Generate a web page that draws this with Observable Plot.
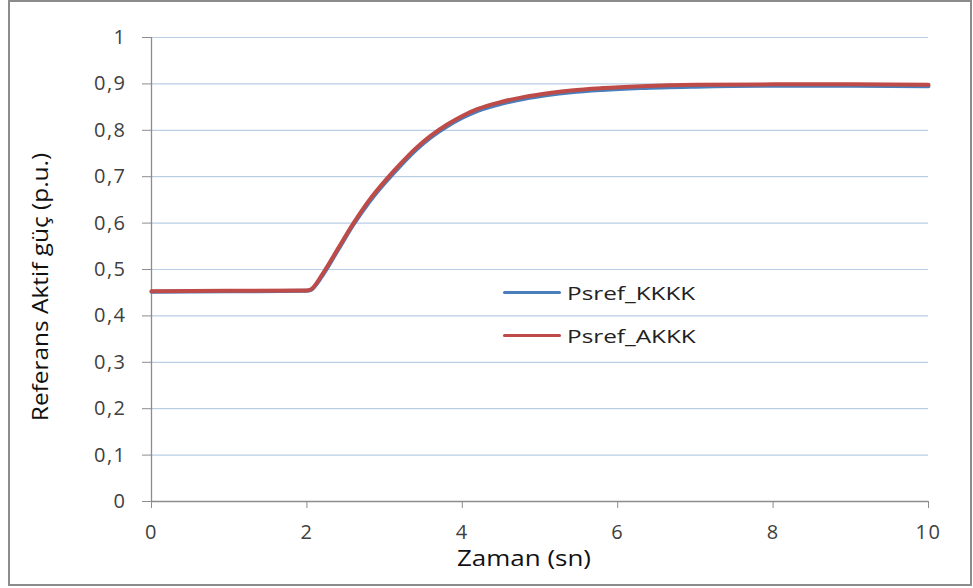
<!DOCTYPE html>
<html>
<head>
<meta charset="utf-8">
<script src="https://cdn.jsdelivr.net/npm/d3@7"></script>
<script src="https://cdn.jsdelivr.net/npm/@observablehq/plot@0.6"></script>
<style>
  html, body { margin: 0; padding: 0; background: #fff; }
  #wrap { position: relative; width: 973px; height: 588px; font-family: "Open Sans", sans-serif; }
  #frame { position: absolute; left: 8px; top: 0px; width: 960px; height: 582px; border: 2px solid #8c8c8c; pointer-events: none; }
  .ttl { position: absolute; color: #111; font-size: 22px; white-space: nowrap; line-height: 1; }
  #xttl { left: 457px; top: 546px; transform: scaleX(1.18); transform-origin: 0 50%; }
  #yttl { left: 39px; top: 287px; transform: translate(-50%, -50%) rotate(-90deg) scaleX(1.11); }
  #legend { position: absolute; left: 503px; top: 271px; font-size: 19px; color: #222; }
  #legend .row { display: flex; align-items: center; height: 43px; }
  #legend .sw { width: 58px; height: 3px; margin-right: 6px; border-radius: 2px; }
  #legend .lab { display: inline-block; transform: scaleX(1.28); transform-origin: 0 50%; }
</style>
</head>
<body>
<div id="wrap">
  <div id="chart"></div>
  <div id="frame"></div>
  <div class="ttl" id="xttl">Zaman (sn)</div>
  <div class="ttl" id="yttl">Referans Aktif güç (p.u.)</div>
  <div id="legend"></div>
</div>
<script>
const seriesNames = ["Psref_KKKK", "Psref_AKKK"];
const seriesColors = ["#4a7ebb", "#be4b48"];
const time = [0, 1, 2, 2.05, 2.2, 2.4, 2.6, 2.8, 3.0, 3.2, 3.4, 3.6, 3.8, 4.0, 4.2, 4.5, 4.8, 5.1, 5.4, 5.8, 6.3, 7, 8, 9, 10];
const psrefKKKK = [0.452, 0.453, 0.454, 0.456, 0.487, 0.542, 0.597, 0.645, 0.686, 0.723, 0.757, 0.785, 0.808, 0.827, 0.842, 0.857, 0.868, 0.876, 0.882, 0.887, 0.891, 0.894, 0.896, 0.896, 0.895];
const psrefAKKK = [0.453, 0.454, 0.455, 0.457, 0.490, 0.545, 0.600, 0.649, 0.690, 0.727, 0.761, 0.789, 0.812, 0.831, 0.846, 0.861, 0.872, 0.880, 0.886, 0.891, 0.895, 0.898, 0.899, 0.899, 0.898];
const yTicks = [0, 0.1, 0.2, 0.3, 0.4, 0.5, 0.6, 0.7, 0.8, 0.9, 1];
const xTicks = [0, 2, 4, 6, 8, 10];

const data = [];
[psrefKKKK, psrefAKKK].forEach((vals, i) => {
  vals.forEach((v, j) => data.push({ series: seriesNames[i], t: time[j], v }));
});

const fmt = d => String(d).replace(".", ",");

const chart = Plot.plot({
  width: 973,
  height: 588,
  marginLeft: 151,
  marginRight: 45,
  marginTop: 37,
  marginBottom: 87,
  style: { fontFamily: "'Open Sans', sans-serif", fontSize: "20px", color: "#404040", background: "transparent", letterSpacing: "1.5px" },
  x: { domain: [0, 10] },
  y: { domain: [0, 1] },
  color: { domain: seriesNames, range: seriesColors },
  marks: [
    Plot.gridY(yTicks, { stroke: "#b9cde5", strokeOpacity: 1, strokeWidth: 1.2 }),
    Plot.ruleX([0], { stroke: "#8c8c8c", strokeWidth: 1.3 }),
    Plot.ruleY([0], { stroke: "#8c8c8c", strokeWidth: 1.3 }),
    Plot.axisY(yTicks, { tickSize: 9, tickPadding: 16, stroke: "#8c8c8c", tickFormat: fmt, label: null, fill: "#404040" }),
    Plot.axisX(xTicks, { tickSize: 7, tickPadding: 16, stroke: "#8c8c8c", tickFormat: fmt, label: null, fill: "#404040" }),
    Plot.line(data, { x: "t", y: "v", z: "series", stroke: "series", strokeWidth: 4, curve: "monotone-x" })
  ]
});
document.getElementById("chart").appendChild(chart);

const legend = document.getElementById("legend");
seriesNames.forEach((name, i) => {
  const row = document.createElement("div");
  row.className = "row";
  const sw = document.createElement("div");
  sw.className = "sw";
  sw.style.background = seriesColors[i];
  const lab = document.createElement("span");
  lab.className = "lab";
  lab.textContent = name;
  row.appendChild(sw);
  row.appendChild(lab);
  legend.appendChild(row);
});
</script>
</body>
</html>
